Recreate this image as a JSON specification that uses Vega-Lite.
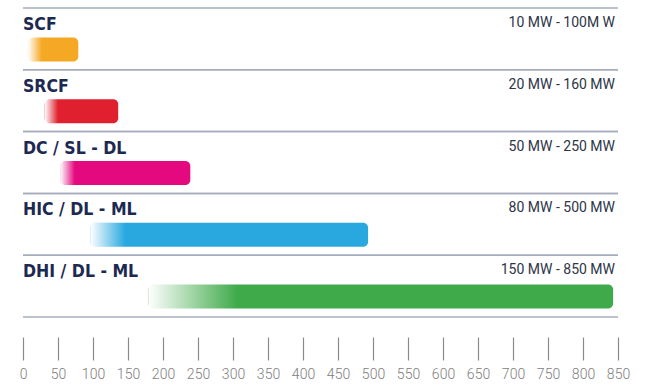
{
  "$schema": "https://vega.github.io/schema/vega-lite/v6.json",
  "width": 595,
  "height": 309,
  "autosize": "none",
  "padding": {"left": 23, "top": 8, "right": 30, "bottom": 71},
  "background": "white",
  "config": {
    "view": {"stroke": null},
    "axis": {
      "title": null, "domain": false, "grid": false,
      "tickSize": 23, "tickColor": "#8a8a8a", "tickWidth": 1.2,
      "labelColor": "#7d7d7d", "labelFont": "Roboto", "labelFontSize": 14, "labelFontWeight": 300, "labelPadding": 7,
      "labelFlush": false, "labelOverlap": false
    }
  },
  "data": {
    "values": [
      {"name": "SCF", "start": 7, "fade": 27, "end": 79, "range": "10 MW - 100M W"},
      {"name": "SRCF", "start": 31, "fade": 50, "end": 136, "range": "20 MW - 160 MW"},
      {"name": "DC / SL - DL", "start": 53, "fade": 74, "end": 239, "range": "50 MW - 250 MW"},
      {"name": "HIC / DL - ML", "start": 96, "fade": 146, "end": 493, "range": "80 MW - 500 MW"},
      {"name": "DHI / DL - ML", "start": 179, "fade": 307, "end": 843, "range": "150 MW - 850 MW"}
    ]
  },
  "layer": [
    {
      "mark": {"type": "rule", "color": "#a5acbd", "strokeWidth": 1.5},
      "encoding": {
        "y": {"field": "name", "type": "nominal", "sort": null, "bandPosition": 0, "axis": null, "scale": {"paddingInner": 0, "paddingOuter": 0}}
      }
    },
    {
      "mark": {"type": "rule", "color": "#a5acbd", "strokeWidth": 1.5},
      "encoding": {
        "y": {"field": "name", "type": "nominal", "sort": null, "bandPosition": 1, "axis": null}
      }
    },
    {
      "mark": {"type": "bar", "height": 24, "yOffset": 10.5, "cornerRadiusEnd": 5},
      "encoding": {
        "y": {"field": "name", "type": "nominal", "sort": null, "axis": null},
        "x": {
          "field": "start", "type": "quantitative",
          "scale": {"domain": [0, 850], "nice": false, "zero": false},
          "axis": {"title": null, "offset": 20, "labelFontSize": 14, "tickSize": 23, "values": [0,50,100,150,200,250,300,350,400,450,500,550,600,650,700,750,800,850]}
        },
        "x2": {"field": "end"},
        "color": {
          "field": "name", "type": "nominal", "legend": null,
          "scale": {
            "domain": ["SCF", "SRCF", "DC / SL - DL", "HIC / DL - ML", "DHI / DL - ML"],
            "range": ["#f5a823", "#e0202e", "#e5097f", "#29a8e0", "#3eaa4a"]
          }
        }
      }
    },
    {
      "mark": {
        "type": "bar", "height": 25, "yOffset": 10.5,
        "fill": {
          "gradient": "linear", "x1": 0, "x2": 1, "y1": 0, "y2": 0,
          "stops": [
            {"offset": 0, "color": "rgba(255,255,255,1)"},
            {"offset": 1, "color": "rgba(255,255,255,0)"}
          ]
        }
      },
      "encoding": {
        "y": {"field": "name", "type": "nominal", "sort": null, "axis": null},
        "x": {"field": "start", "type": "quantitative", "axis": {"title": null, "offset": 20, "labelFontSize": 14, "tickSize": 23, "values": [0,50,100,150,200,250,300,350,400,450,500,550,600,650,700,750,800,850]}},
        "x2": {"field": "fade"}
      }
    },
    {
      "mark": {"type": "text", "align": "left", "baseline": "alphabetic", "font": "DejaVu Sans Condensed, Roboto", "fontWeight": "bold", "fontSize": 17.5, "color": "#1c2951", "yOffset": -9},
      "encoding": {
        "y": {"field": "name", "type": "nominal", "sort": null, "axis": null},
        "x": {"datum": 0, "type": "quantitative", "axis": {"title": null, "offset": 20, "labelFontSize": 14, "tickSize": 23, "values": [0,50,100,150,200,250,300,350,400,450,500,550,600,650,700,750,800,850]}},
        "text": {"field": "name"}
      }
    },
    {
      "mark": {"type": "text", "align": "right", "baseline": "alphabetic", "font": "Roboto", "fontSize": 14, "color": "#2d3447", "yOffset": -12, "dx": -3},
      "encoding": {
        "y": {"field": "name", "type": "nominal", "sort": null, "axis": null},
        "x": {"datum": 850, "type": "quantitative", "axis": {"title": null, "offset": 20, "labelFontSize": 14, "tickSize": 23, "values": [0,50,100,150,200,250,300,350,400,450,500,550,600,650,700,750,800,850]}},
        "text": {"field": "range"}
      }
    }
  ]
}
